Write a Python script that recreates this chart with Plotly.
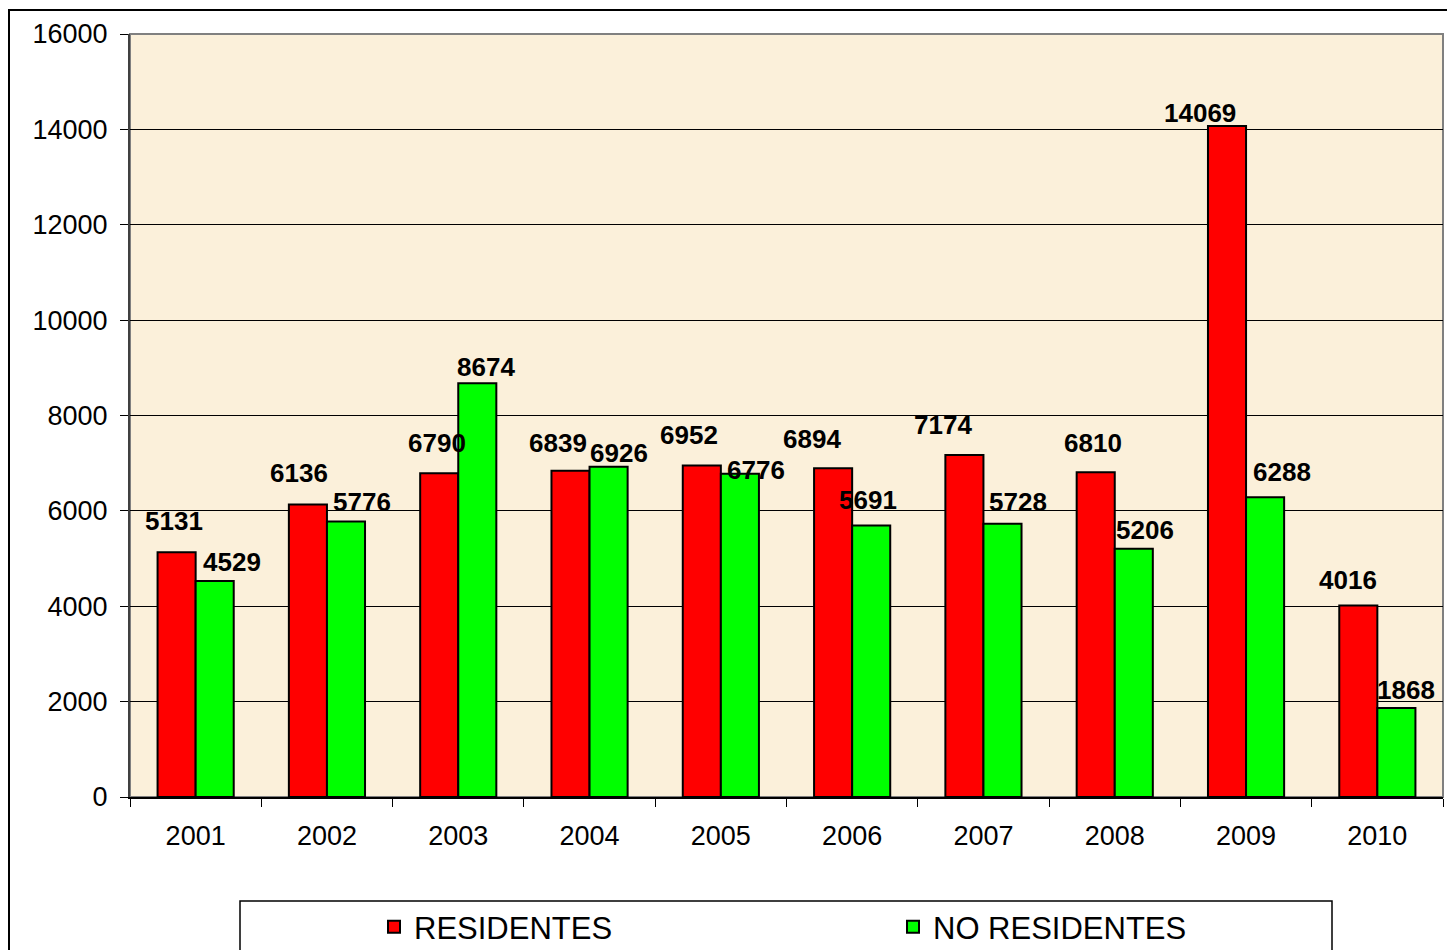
import plotly.graph_objects as go

years = ["2001", "2002", "2003", "2004", "2005", "2006", "2007", "2008", "2009", "2010"]
residentes = [5131, 6136, 6790, 6839, 6952, 6894, 7174, 6810, 14069, 4016]
no_residentes = [4529, 5776, 8674, 6926, 6776, 5691, 5728, 5206, 6288, 1868]
y_ticks = [0, 2000, 4000, 6000, 8000, 10000, 12000, 14000, 16000]

# label offsets (pixels) relative to category centre / bar top
res_dx = [-22, -28, -21, -32, -32, -40, -40, -22, -46, -29]
res_dy = [31, 31, 30, 28, 30, 29, 30, 29, 13, 25]
nor_dx = [36, 35, 28, 29, 35, 16, 35, 30, 36, 29]
nor_dy = [19, 20, 16, 14, 4, 26, 22, 19, 25, 18]

# the page body adds an 8px margin, so the figure is 8px smaller
OFF = 8
W, H = 1455 - OFF, 950 - OFF
L, R, T, B = 130 - OFF, 12, 34 - OFF, 153
FONT = "Liberation Sans, Arial, sans-serif"

fig = go.Figure()
fig.add_trace(go.Bar(name="RESIDENTES", x=years, y=residentes,
                     marker=dict(color="#FF0000", line=dict(color="#000000", width=2))))
fig.add_trace(go.Bar(name="NO RESIDENTES", x=years, y=no_residentes,
                     marker=dict(color="#00FF00", line=dict(color="#000000", width=2))))

ann = []
for i, yr in enumerate(years):
    ann.append(dict(x=i, y=residentes[i], xref="x", yref="y", text="<b>%d</b>" % residentes[i],
                    showarrow=False, xanchor="center", yanchor="middle",
                    xshift=res_dx[i], yshift=res_dy[i],
                    font=dict(family=FONT, size=26, color="#000000")))
    ann.append(dict(x=i, y=no_residentes[i], xref="x", yref="y", text="<b>%d</b>" % no_residentes[i],
                    showarrow=False, xanchor="center", yanchor="middle",
                    xshift=nor_dx[i], yshift=nor_dy[i],
                    font=dict(family=FONT, size=26, color="#000000")))

pw = W - L - R
ph = H - T - B
def px_x(p):  # page pixel -> paper fraction
    return (p - OFF - L) / pw
def px_y(p):
    return 1 - (p - OFF - T) / ph

shapes = [
    # outer chart border
    dict(type="rect", xref="paper", yref="paper", x0=px_x(9), x1=px_x(1470), y0=px_y(10), y1=px_y(970),
         line=dict(color="#000000", width=2), fillcolor="rgba(0,0,0,0)", layer="below"),
    # plot area frame (grey)
    dict(type="rect", xref="paper", yref="paper", x0=0, x1=1, y0=0, y1=1,
         line=dict(color="#808080", width=2), fillcolor="rgba(0,0,0,0)", layer="below"),
    # legend box
    dict(type="rect", xref="paper", yref="paper", x0=px_x(240), x1=px_x(1332), y0=px_y(901), y1=px_y(970),
         line=dict(color="#000000", width=1.5), fillcolor="#FFFFFF", layer="below"),
]

fig.update_layout(
    width=W, height=H,
    margin=dict(l=L, r=R, t=T, b=B, autoexpand=False),
    paper_bgcolor="#FFFFFF",
    plot_bgcolor="#FBF0DA",
    barmode="group", bargap=0.42, bargroupgap=0,
    font=dict(family=FONT, size=27, color="#000000"),
    showlegend=True,
    legend=dict(orientation="h", xref="container", yref="container",
                x=366 / W, y=1 - 892 / H, xanchor="left", yanchor="top",
                font=dict(family=FONT, size=31, color="#000000"),
                entrywidth=474, entrywidthmode="pixels",
                bgcolor="rgba(0,0,0,0)", borderwidth=0),
    annotations=ann,
    shapes=shapes,
)
fig.update_xaxes(type="category", range=[-0.5, len(years) - 0.5], autorange=False,
                 showline=True, linecolor="#000000", linewidth=1.5,
                 ticks="outside", tickson="boundaries", ticklen=8, tickcolor="#000000",
                 tickfont=dict(family=FONT, size=27), ticklabelstandoff=14, tickangle=0,
                 showgrid=False)
fig.update_yaxes(range=[0, 16000], autorange=False, tickvals=y_ticks, tickformat="d",
                 showline=True, linecolor="#404040", linewidth=2,
                 ticks="outside", ticklen=8, tickcolor="#000000",
                 tickfont=dict(family=FONT, size=27), ticklabelstandoff=7,
                 showgrid=True, gridcolor="#000000", gridwidth=1, zeroline=False)

fig.write_html("out.html")
